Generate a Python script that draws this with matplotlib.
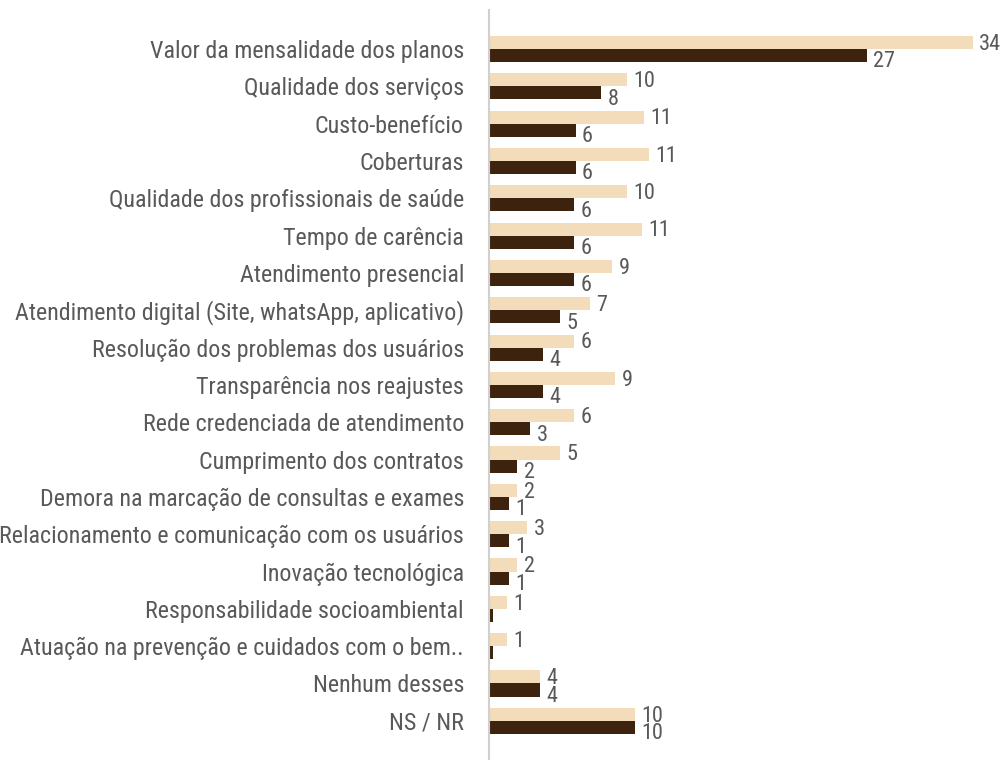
import matplotlib
matplotlib.use("Agg")
import matplotlib.pyplot as plt
import numpy as np
from matplotlib.transforms import offset_copy

categories = [
    "Valor da mensalidade dos planos",
    "Qualidade dos serviços",
    "Custo-benefício",
    "Coberturas",
    "Qualidade dos profissionais de saúde",
    "Tempo de carência",
    "Atendimento presencial",
    "Atendimento digital (Site, whatsApp, aplicativo)",
    "Resolução dos problemas dos usuários",
    "Transparência nos reajustes",
    "Rede credenciada de atendimento",
    "Cumprimento dos contratos",
    "Demora na marcação de consultas e exames",
    "Relacionamento e comunicação com os usuários",
    "Inovação tecnológica",
    "Responsabilidade socioambiental",
    "Atuação na prevenção e cuidados com o bem..",
    "Nenhum desses",
    "NS / NR",
]
series_light = [34.1, 9.7, 10.9, 11.3, 9.7, 10.8, 8.7, 7.1, 6.0, 8.9, 6.0, 5.0, 2.0, 2.7, 2.0, 1.3, 1.3, 3.6, 10.3]
series_dark = [26.6, 7.9, 6.1, 6.1, 6.0, 6.0, 6.0, 5.0, 3.8, 3.8, 2.9, 2.0, 1.4, 1.4, 1.4, 0.25, 0.25, 3.6, 10.3]

fam = ["Roboto Condensed", "DejaVu Sans"]

W, H = 1003, 760
fig = plt.figure(figsize=(W / 100, H / 100), dpi=100)
ax = fig.add_axes([489 / W, 0.0, 511 / W, 750 / H])

n = len(categories)
y = np.arange(n)
h = 0.35
light_c = "#F2DCB9"
dark_c = "#3D230D"
txt_c = "#595959"

ax.barh(y - h / 2, series_light, height=h, color=light_c)
ax.barh(y + h / 2, series_dark, height=h, color=dark_c)

ax.set_xlim(0, 36)
ax.set_ylim(19.05, -1.045)

fs = 17.3
fs_val = 16
ax.set_yticks(y)
ax.set_yticklabels(categories, fontsize=fs, color=txt_c, family=fam)
ax.tick_params(axis="y", length=0, pad=18)
ax.set_xticks([])
for s in ["top", "right", "bottom"]:
    ax.spines[s].set_visible(False)
ax.spines["left"].set_color("#D0D0D0")
ax.spines["left"].set_linewidth(1.5)

tr = offset_copy(ax.transData, fig=fig, x=4.5, y=0, units="points")
for i in range(n):
    vl = round(series_light[i])
    vd = round(series_dark[i])
    if vl > 0:
        ax.text(series_light[i], y[i] - h / 2 + 0.05, str(vl), transform=tr,
                ha="left", va="center", fontsize=fs_val, color=txt_c, family=fam)
    if vd > 0:
        ax.text(series_dark[i], y[i] + h / 2 + 0.17, str(vd), transform=tr,
                ha="left", va="center", fontsize=fs_val, color=txt_c, family=fam)

fig.savefig("out.png", dpi=100)
